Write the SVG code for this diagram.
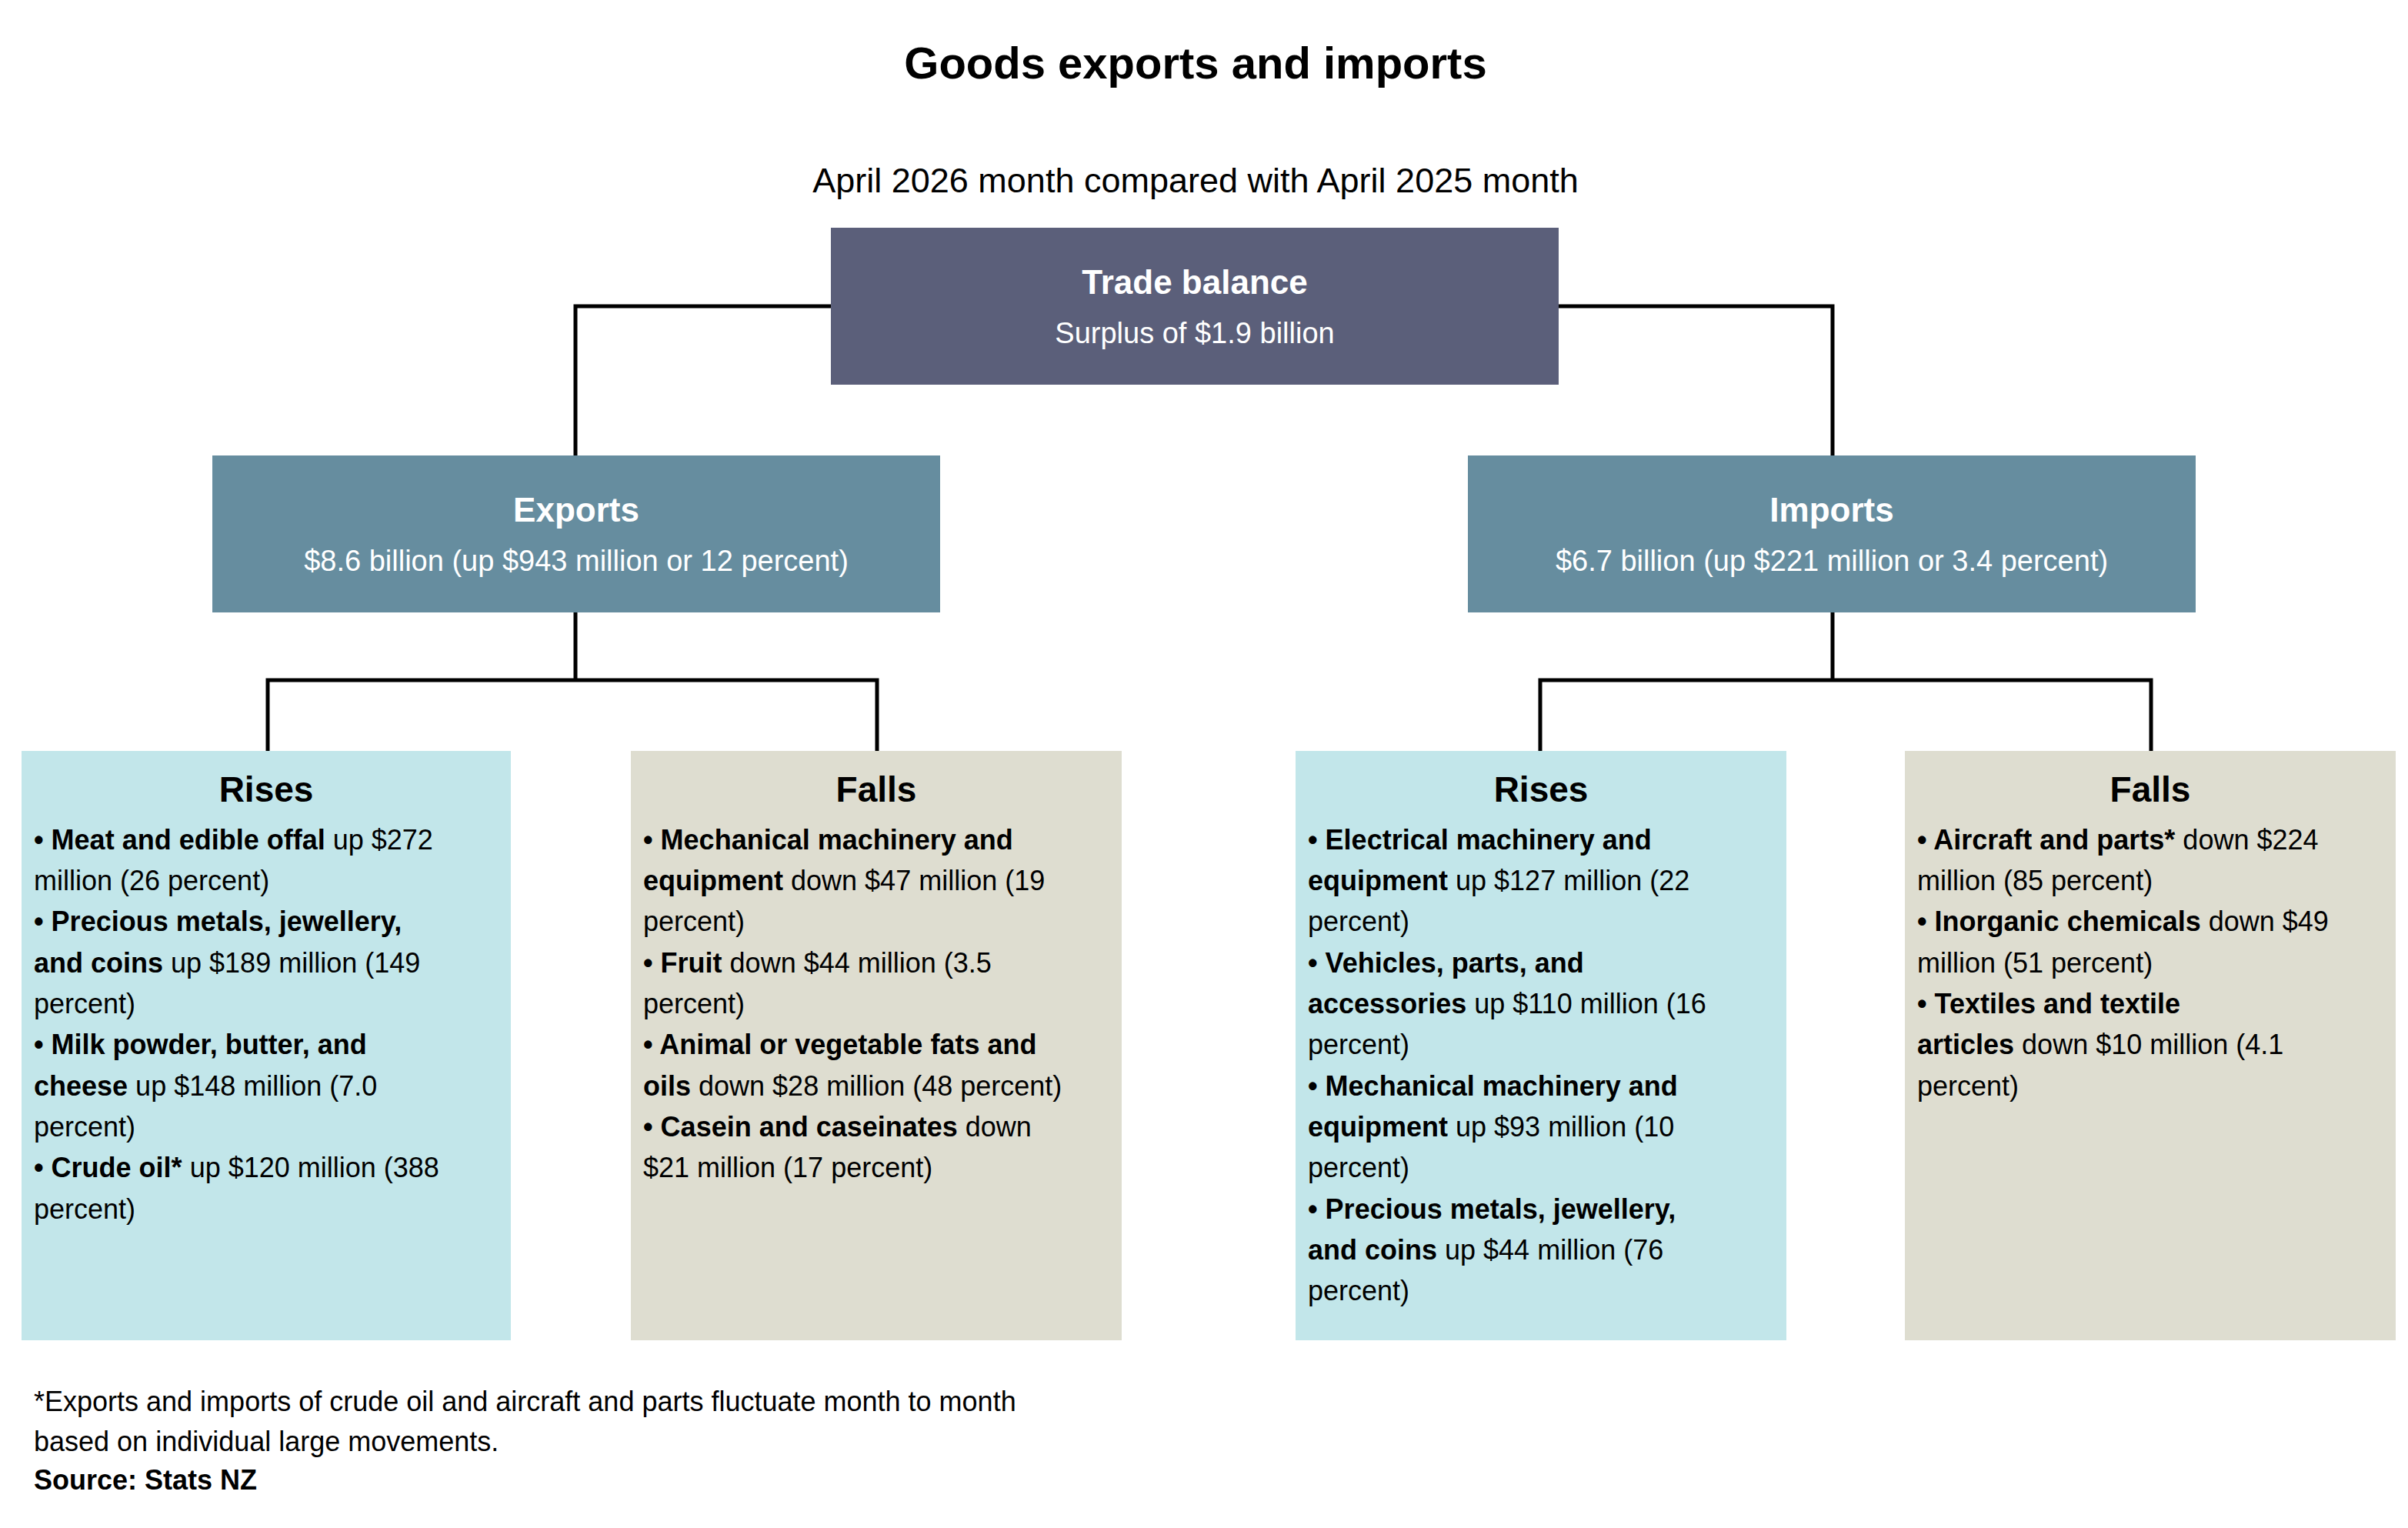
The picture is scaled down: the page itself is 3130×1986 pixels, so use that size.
<svg xmlns="http://www.w3.org/2000/svg" width="3130" height="1986" viewBox="0 0 3130 1986">
<style>
text{font-family:"Liberation Sans",Arial,sans-serif;fill:#000}
.b{font-weight:bold}
.hd{font-size:46px;font-weight:bold;text-anchor:middle}
.w{fill:#fff;text-anchor:middle}
.t{font-size:36px}
.c{fill:none;stroke:#000;stroke-width:5}
</style>
<rect width="3130" height="1986" fill="#fff"/>
<text x="1554" y="102" text-anchor="middle" class="b" font-size="58">Goods exports and imports</text>
<text x="1554" y="250" text-anchor="middle" font-size="45">April 2026 month compared with April 2025 month</text>
<g id="connectors" class="c">
<path class="c" d="M1080 398H748V592M2026 398H2382V592M748 796V884M348 976V884H1140V976M2382 796V884M2002 976V884H2796V976"/>
</g>
<g id="trade"><rect x="1080" y="296" width="946" height="204" fill="#5b5f7a"/>
<text x="1553" y="382" class="w b" font-size="44">Trade balance</text>
<text x="1553" y="446" class="w" font-size="38">Surplus of $1.9 billion</text></g>
<g id="exports"><rect x="276" y="592" width="946" height="204" fill="#668d9f"/>
<text x="749" y="678" class="w b" font-size="44">Exports</text>
<text x="749" y="742" class="w" font-size="38">$8.6 billion (up $943 million or 12 percent)</text></g>
<g id="imports"><rect x="1908" y="592" width="946" height="204" fill="#668d9f"/>
<text x="2381" y="678" class="w b" font-size="44">Imports</text>
<text x="2381" y="742" class="w" font-size="38">$6.7 billion (up $221 million or 3.4 percent)</text></g>
<g id="exp-rises"><rect x="28" y="976" width="636" height="766" fill="#c2e6ea"/>
<text x="346" y="1042" class="hd">Rises</text>
<text class="t" x="44"><tspan x="44" y="1104"><tspan class="b">• Meat and edible offal</tspan> up $272</tspan><tspan x="44" y="1157">million (26 percent)</tspan><tspan x="44" y="1210" class="b">• Precious metals, jewellery,</tspan><tspan x="44" y="1264"><tspan class="b">and coins</tspan> up $189 million (149</tspan><tspan x="44" y="1317">percent)</tspan><tspan x="44" y="1370" class="b">• Milk powder, butter, and</tspan><tspan x="44" y="1424"><tspan class="b">cheese</tspan> up $148 million (7.0</tspan><tspan x="44" y="1477">percent)</tspan><tspan x="44" y="1530"><tspan class="b">• Crude oil*</tspan> up $120 million (388</tspan><tspan x="44" y="1584">percent)</tspan></text></g>
<g id="exp-falls"><rect x="820" y="976" width="638" height="766" fill="#deddd0"/>
<text x="1139" y="1042" class="hd">Falls</text>
<text class="t"><tspan x="836" y="1104" class="b">• Mechanical machinery and</tspan><tspan x="836" y="1157"><tspan class="b">equipment</tspan> down $47 million (19</tspan><tspan x="836" y="1210">percent)</tspan><tspan x="836" y="1264"><tspan class="b">• Fruit</tspan> down $44 million (3.5</tspan><tspan x="836" y="1317">percent)</tspan><tspan x="836" y="1370" class="b">• Animal or vegetable fats and</tspan><tspan x="836" y="1424"><tspan class="b">oils</tspan> down $28 million (48 percent)</tspan><tspan x="836" y="1477"><tspan class="b">• Casein and caseinates</tspan> down</tspan><tspan x="836" y="1530">$21 million (17 percent)</tspan></text></g>
<g id="imp-rises"><rect x="1684" y="976" width="638" height="766" fill="#c2e6ea"/>
<text x="2003" y="1042" class="hd">Rises</text>
<text class="t"><tspan x="1700" y="1104" class="b">• Electrical machinery and</tspan><tspan x="1700" y="1157"><tspan class="b">equipment</tspan> up $127 million (22</tspan><tspan x="1700" y="1210">percent)</tspan><tspan x="1700" y="1264" class="b">• Vehicles, parts, and</tspan><tspan x="1700" y="1317"><tspan class="b">accessories</tspan> up $110 million (16</tspan><tspan x="1700" y="1370">percent)</tspan><tspan x="1700" y="1424" class="b">• Mechanical machinery and</tspan><tspan x="1700" y="1477"><tspan class="b">equipment</tspan> up $93 million (10</tspan><tspan x="1700" y="1530">percent)</tspan><tspan x="1700" y="1584" class="b">• Precious metals, jewellery,</tspan><tspan x="1700" y="1637"><tspan class="b">and coins</tspan> up $44 million (76</tspan><tspan x="1700" y="1690">percent)</tspan></text></g>
<g id="imp-falls"><rect x="2476" y="976" width="638" height="766" fill="#deddd0"/>
<text x="2795" y="1042" class="hd">Falls</text>
<text class="t"><tspan x="2492" y="1104"><tspan class="b">• Aircraft and parts*</tspan> down $224</tspan><tspan x="2492" y="1157">million (85 percent)</tspan><tspan x="2492" y="1210"><tspan class="b">• Inorganic chemicals</tspan> down $49</tspan><tspan x="2492" y="1264">million (51 percent)</tspan><tspan x="2492" y="1317" class="b">• Textiles and textile</tspan><tspan x="2492" y="1370"><tspan class="b">articles</tspan> down $10 million (4.1</tspan><tspan x="2492" y="1424">percent)</tspan></text></g>
<text class="t" font-size="34"><tspan x="44" y="1834">*Exports and imports of crude oil and aircraft and parts fluctuate month to month</tspan><tspan x="44" y="1886">based on individual large movements.</tspan><tspan x="44" y="1936" class="b">Source: Stats NZ</tspan></text>
</svg>
